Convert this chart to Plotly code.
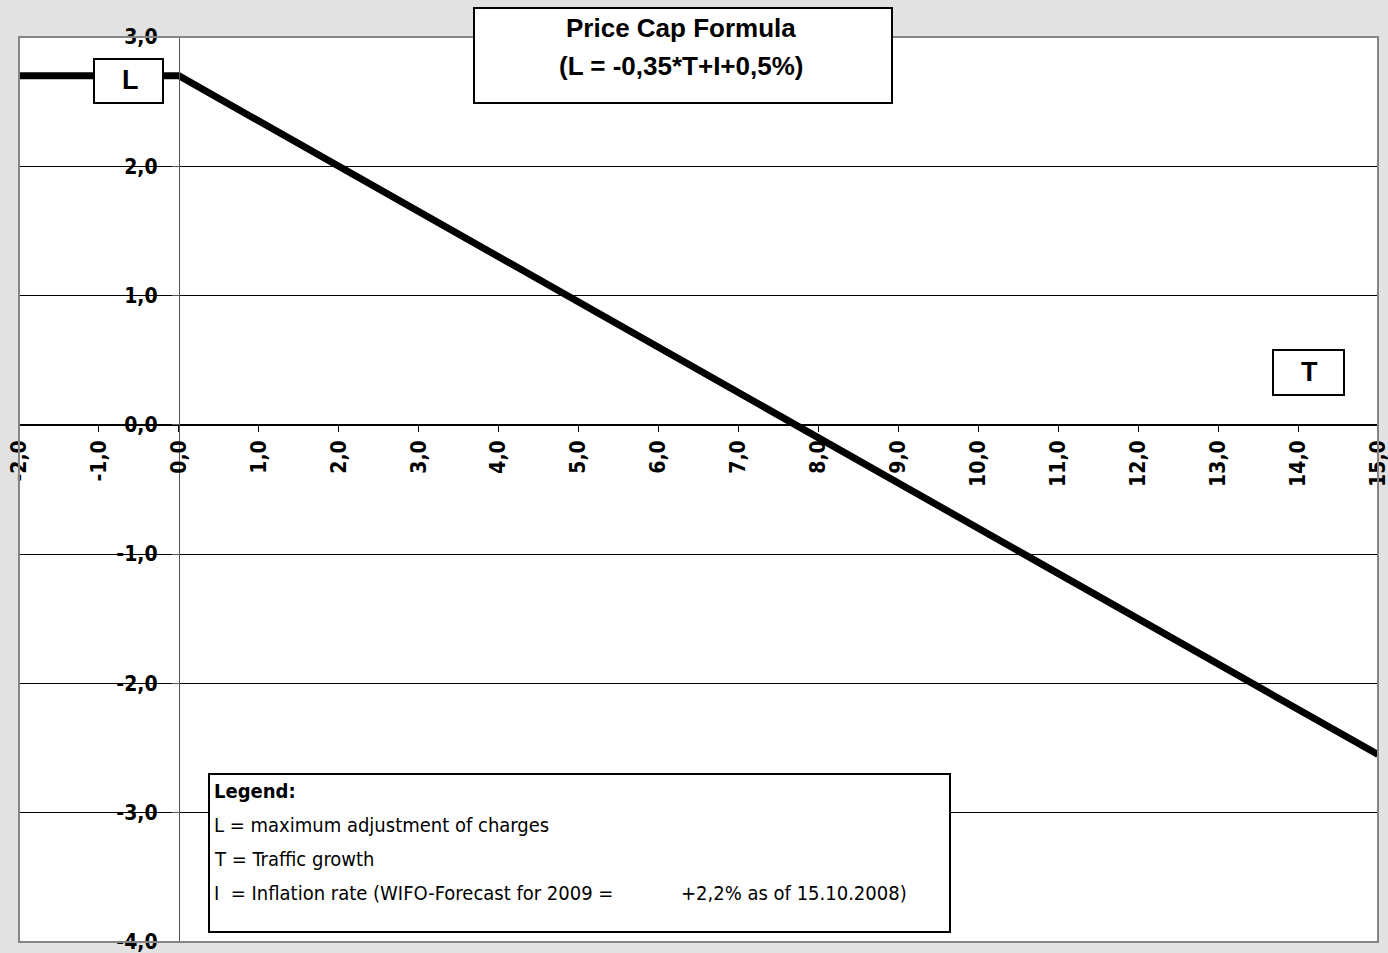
import plotly.graph_objects as go

# ---- data ----
traffic_growth = [-2.0, 0.0, 15.0]          # T
max_adjustment = [2.7, 2.7, -2.55]          # L = -0.35*T + I + 0.5 (capped for T<0)
x_tick_vals = [-2, -1, 0, 1, 2, 3, 4, 5, 6, 7, 8, 9, 10, 11, 12, 13, 14, 15]
x_tick_text = ["-2,0", "-1,0", "0,0", "1,0", "2,0", "3,0", "4,0", "5,0", "6,0",
               "7,0", "8,0", "9,0", "10,0", "11,0", "12,0", "13,0", "14,0", "15,0"]
y_tick_vals = [-4, -3, -2, -1, 0, 1, 2, 3]
y_tick_text = ["-4,0", "-3,0", "-2,0", "-1,0", "0,0", "1,0", "2,0", "3,0"]
title_lines = ["Price Cap Formula", "(L = -0,35*T+I+0,5%)"]
legend_lines = ["L = maximum adjustment of charges", "T = Traffic growth",
                "I  = Inflation rate (WIFO-Forecast for 2009 ="]
legend_tail = "+2,2% as of 15.10.2008)"

W, H = 1388, 953
L_M, R_M, T_M, B_M = 19, 10, 37, 11
PW = W - L_M - R_M
PH = H - T_M - B_M

def px(x):
    return (x - L_M) / PW

def py(y):
    return (H - B_M - y) / PH

COND = "DejaVu Sans Condensed, Liberation Sans, Arial, sans-serif"
SANS = "Liberation Sans, Arial, sans-serif"

fig = go.Figure()
fig.add_trace(go.Scatter(x=traffic_growth, y=max_adjustment, mode="lines",
                         line=dict(color="black", width=7), hoverinfo="skip",
                         showlegend=False, cliponaxis=False))

fig.update_layout(
    width=W, height=H,
    margin=dict(l=L_M, r=R_M, t=T_M, b=B_M, autoexpand=False),
    paper_bgcolor="#e2e2e2", plot_bgcolor="white",
    showlegend=False,
    xaxis=dict(range=[-2, 15], anchor="free", position=4 / 7,
               tickvals=x_tick_vals, ticktext=x_tick_text, tickangle=-90,
               ticks="outside", ticklen=6, tickcolor="black", tickwidth=1,
               showline=True, linecolor="black", linewidth=1,
               showgrid=False, zeroline=False, ticklabeloverflow="allow",
               tickfont=dict(family=COND, size=21, color="black", weight="bold"),
               automargin=False, fixedrange=True),
    yaxis=dict(range=[-4, 3], anchor="free", position=2 / 17,
               tickvals=y_tick_vals, ticktext=y_tick_text,
               ticks="outside", ticklen=7, tickcolor="#555", tickwidth=1,
               showline=True, linecolor="#555", linewidth=1,
               showgrid=True, gridcolor="black", gridwidth=1, zeroline=False,
               ticklabeloverflow="allow",
               tickfont=dict(family=COND, size=21, color="black", weight="bold"),
               ticklabelstandoff=10,
               automargin=False, fixedrange=True),
)

shapes = [
    dict(type="rect", xref="paper", yref="paper", x0=0, x1=1, y0=0, y1=1,
         line=dict(color="#858585", width=2), layer="above"),
    dict(type="rect", xref="paper", yref="paper", x0=px(474), x1=px(892), y0=py(103), y1=py(8),
         fillcolor="white", line=dict(color="black", width=2), layer="above"),
    dict(type="rect", xref="paper", yref="paper", x0=px(94), x1=px(163), y0=py(103), y1=py(59),
         fillcolor="white", line=dict(color="black", width=2), layer="above"),
    dict(type="rect", xref="paper", yref="paper", x0=px(1273), x1=px(1344), y0=py(395), y1=py(350),
         fillcolor="white", line=dict(color="black", width=2), layer="above"),
    dict(type="rect", xref="paper", yref="paper", x0=px(209), x1=px(950), y0=py(932), y1=py(774),
         fillcolor="white", line=dict(color="black", width=2), layer="above"),
]
fig.update_layout(shapes=shapes)

def ann(text, x, y, size, bold=False, xanchor="center", family=SANS):
    fig.add_annotation(text=text, xref="paper", yref="paper", x=px(x), y=py(y),
                       xanchor=xanchor, yanchor="middle", showarrow=False,
                       font=dict(family=family, size=size, color="black",
                                 weight="bold" if bold else "normal"))

ann(title_lines[0], 681, 28, 26, bold=True)
ann(title_lines[1], 681, 66, 26, bold=True)
ann("L", 130, 80, 27, bold=True)
ann("T", 1309, 372, 27, bold=True)
ann("Legend:", 212, 791, 20, bold=True, xanchor="left", family=COND)
for i, line in enumerate(legend_lines):
    ann(line, 212, 825 + 34 * i, 20, xanchor="left", family=COND)
ann(legend_tail, 679, 893, 20, xanchor="left", family=COND)

fig.write_html("out.html")
